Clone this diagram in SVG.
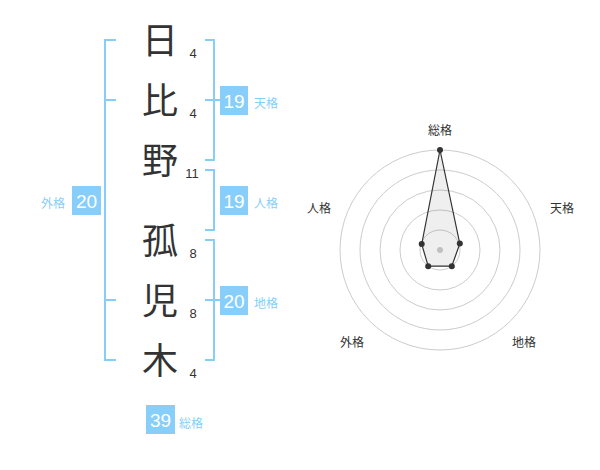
<svg xmlns="http://www.w3.org/2000/svg" width="600" height="470" viewBox="0 0 600 470">
<style>
.k{font-family:"Noto Sans CJK JP",sans-serif;font-size:36px;fill:#333;text-anchor:middle}
.n{font-family:"Liberation Sans",Arial,sans-serif;font-size:13px;fill:#333;text-anchor:middle}
.br{stroke:#87cdf9;stroke-width:2;fill:none}
.bx{fill:#87cefa}
.bt{font-family:"Liberation Sans",Arial,sans-serif;font-size:19px;fill:#fff;text-anchor:middle}
.lb{font-family:"Noto Sans CJK JP",sans-serif;font-size:12px;fill:#87cefa}
.rl{font-family:"Noto Sans CJK JP",sans-serif;font-size:12px;fill:#333;text-anchor:middle}
.c{fill:none;stroke:#ccc;stroke-width:1}
</style>
<rect width="600" height="470" fill="#fff"/>
<g id="chars">
<text class="k" x="160" y="54">日</text>
<text class="k" x="160" y="114">比</text>
<text class="k" x="160" y="174">野</text>
<text class="k" x="160" y="254">孤</text>
<text class="k" x="160" y="314">児</text>
<text class="k" x="160" y="374">木</text>
</g>
<g id="strokes">
<text class="n" x="193" y="58">4</text>
<text class="n" x="193" y="118">4</text>
<text class="n" x="192" y="178">11</text>
<text class="n" x="193" y="258">8</text>
<text class="n" x="193" y="318">8</text>
<text class="n" x="193" y="378">4</text>
</g>
<g id="connectors">
<path class="br" d="M116,40H105V360H116M105,100H116M105,300H116"/>
<path class="br" d="M205,40H214V160H205M205,100H221"/>
<path class="br" d="M205,170H214V230H205"/>
<path class="br" d="M205,240H214V360H205M205,300H221"/>
</g>
<g id="gaikaku">
<rect class="bx" x="72" y="186" width="29" height="29"/>
<text class="bt" x="86.5" y="208">20</text>
<text class="lb" x="41" y="208">外格</text>
</g>
<g id="tenkaku">
<rect class="bx" x="220" y="86" width="28" height="29"/>
<text class="bt" x="234" y="108">19</text>
<text class="lb" x="254" y="108">天格</text>
</g>
<g id="jinkaku">
<rect class="bx" x="220" y="186" width="28" height="29"/>
<text class="bt" x="234" y="208">19</text>
<text class="lb" x="254" y="208">人格</text>
</g>
<g id="chikaku">
<rect class="bx" x="220" y="286" width="28" height="29"/>
<text class="bt" x="234" y="308">20</text>
<text class="lb" x="254" y="308">地格</text>
</g>
<g id="soukaku">
<rect class="bx" x="146" y="405" width="29" height="29"/>
<text class="bt" x="160.5" y="427">39</text>
<text class="lb" x="179" y="428">総格</text>
</g>
<g id="radar">
<circle class="c" cx="440" cy="250" r="20"/>
<circle class="c" cx="440" cy="250" r="40"/>
<circle class="c" cx="440" cy="250" r="60"/>
<circle class="c" cx="440" cy="250" r="80"/>
<circle class="c" cx="440" cy="250" r="100"/>
<circle cx="440" cy="250" r="3" fill="#ccc"/>
<polygon points="440,150 459.8,243.6 451.8,266.2 428.2,266.2 421.7,244.1" fill="#333" fill-opacity="0.08" stroke="#333" stroke-width="1.2"/>
<g fill="#333">
<circle cx="440" cy="150" r="3"/>
<circle cx="459.8" cy="243.6" r="3"/>
<circle cx="451.8" cy="266.2" r="3"/>
<circle cx="428.2" cy="266.2" r="3"/>
<circle cx="421.7" cy="244.1" r="3"/>
</g>
<text class="rl" x="440" y="135">総格</text>
<text class="rl" x="562" y="213">天格</text>
<text class="rl" x="319" y="213">人格</text>
<text class="rl" x="352" y="347">外格</text>
<text class="rl" x="524" y="347">地格</text>
</g>
</svg>
